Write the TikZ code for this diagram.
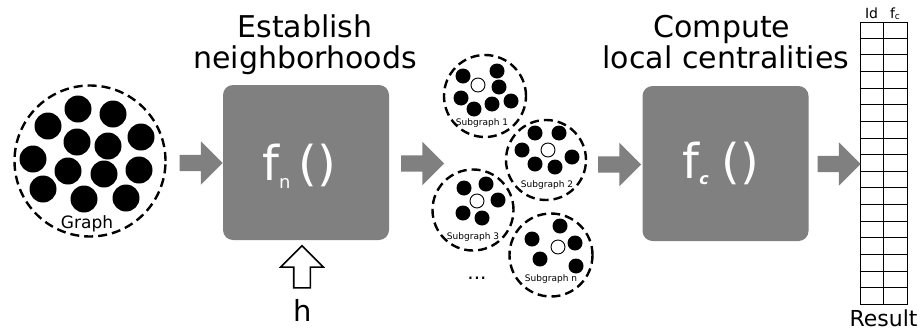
\documentclass[tikz,border=0pt]{standalone}
\usepackage{fontspec}
\setmainfont{DejaVu Sans}
\usetikzlibrary{shapes.arrows,calc,positioning}

\begin{document}
\begin{tikzpicture}[x=1pt, y=-1pt]
	\tikzstyle{hood} = [draw, circle, dash pattern=on 9pt off 5pt, line width=2.4pt, inner sep=0pt]
	\tikzstyle{vtx} = [circle, fill=black, inner sep=0pt, minimum size=15pt]
	\tikzstyle{seed} = [circle, draw, fill=white, line width=0.9pt, inner sep=0pt, minimum size=14pt]
	\tikzstyle{func} = [rectangle, rounded corners=10pt, fill=gray, minimum width=166pt, minimum height=155pt, inner sep=0pt]
	\tikzstyle{flow} = [single arrow, fill=gray, inner xsep=0pt, inner ysep=8pt, minimum height=43pt, minimum width=43pt, single arrow head extend=13.5pt]
	\tikzstyle{title} = [font=\fontsize{30}{31}\selectfont, anchor=base, inner sep=0pt]
	\tikzstyle{sublabel} = [font=\fontsize{9}{9}\selectfont, inner sep=0pt]

	\useasboundingbox (0,0) rectangle (924,335);

	% input graph
	\node[hood, minimum size=151pt] (graph) at (90,161) {};
	\foreach \x/\y [count=\i] in {78/109, 113/114, 48/126, 141/137, 77/142, 108/146, 33/159,
		68/171, 104/174, 139/170, 43/189, 84/199, 126/198}
		\node[vtx, minimum size=27pt] (g\i) at (\x,\y) {};
	\node[font=\fontsize{17}{17}\selectfont, anchor=base] (glabel) at (87,228) {Graph};

	% establish neighborhoods
	\node[title] (t1a) at (305,37) {Establish};
	\node[title] (t1b) at (305,68) {neighborhoods};
	\node[func] (fn) at (306,162.5) {};
	\node[anchor=base, inner sep=0pt, text=white, font=\fontsize{48}{48}\selectfont] (fnlabel) at (299,180)
		{f\raisebox{-8pt}{\fontsize{18}{18}\selectfont n}\hspace{8pt}()};
	\node[single arrow, rotate=90, draw, fill=white, line width=1.6pt, inner xsep=0pt, inner ysep=7.5pt,
		minimum height=42pt, minimum width=41pt, single arrow head extend=13pt] (harrow) at (302,271) {};
	\node[font=\fontsize{29}{29}\selectfont, anchor=base] (hval) at (303,321) {h};

	% subgraphs
	\node[hood, minimum size=82pt] (sg1) at (485,96) {};
	\node[hood, minimum size=80pt] (sg2) at (546,160) {};
	\node[hood, minimum size=81pt] (sg3) at (473,210) {};
	\node[hood, minimum size=83pt] (sgn) at (551,255) {};

	\foreach \x/\y [count=\i] in {463/76, 497/71, 499/87, 461/98, 474/109, 492/104, 511/101}
		\node[vtx] (a\i) at (\x,\y) {};
	\node[seed] (a0) at (478,85) {};
	\node[sublabel] (l1) at (482,123) {Subgraph 1};

	\foreach \x/\y [count=\i] in {535/133, 559/133, 522/150, 572/157, 535/164, 555/167}
		\node[vtx] (b\i) at (\x,\y) {};
	\node[seed] (b0) at (548,150) {};
	\node[sublabel] (l2) at (547,185) {Subgraph 2};

	\foreach \x/\y [count=\i] in {464/188, 486/184, 498/200, 463/213, 482/218}
		\node[vtx] (c\i) at (\x,\y) {};
	\node[seed] (c0) at (477,201) {};
	\node[sublabel] (l3) at (473,237) {Subgraph 3};

	\foreach \x/\y [count=\i] in {560/226, 532/239, 575/243, 540/259, 576/266}
		\node[vtx] (d\i) at (\x,\y) {};
	\node[seed] (d0) at (558,247) {};
	\node[sublabel] (ln) at (551,279) {Subgraph n};

	\node[font=\fontsize{20}{20}\selectfont, anchor=base] (more) at (477,279) {...};

	% compute local centralities
	\node[title] (t2a) at (722,37) {Compute};
	\node[title] (t2b) at (726,68) {local centralities};
	\node[func] (fc) at (725.5,163.5) {};
	\node[anchor=base, inner sep=0pt, text=white, font=\fontsize{48}{48}\selectfont] (fclabel) at (721,178)
		{f\raisebox{-6pt}{\fontsize{16}{16}\selectfont\bfseries\itshape c}\hspace{13pt}()};

	% result table
	\node[draw, line width=1pt, rectangle, minimum width=47pt, minimum height=282pt, inner sep=0pt] (res) at (883.5,163) {};
	\draw[line width=1pt] (res.north) -- (res.south);
	\foreach \i in {1,...,16}
		\draw[line width=1pt] ($(res.north west)!\i/17!(res.south west)$) -- ($(res.north east)!\i/17!(res.south east)$);
	\node[font=\fontsize{14}{14}\selectfont, anchor=base] (hid) at (871.5,18) {Id};
	\node[font=\fontsize{14}{14}\selectfont, anchor=base] (hfc) at (895,18) {f\raisebox{-1pt}{\fontsize{9}{9}\selectfont c}};
	\node[font=\fontsize{22}{22}\selectfont, anchor=base] (rlabel) at (883.5,326) {Result};

	% flow arrows
	\node[flow] (f1) at (197,163) {};
	\node[flow] (f2) at (418.5,163.5) {};
	\node[flow] (f3) at (615.5,164.5) {};
	\node[flow] (f4) at (835,164) {};
\end{tikzpicture}
\end{document}
